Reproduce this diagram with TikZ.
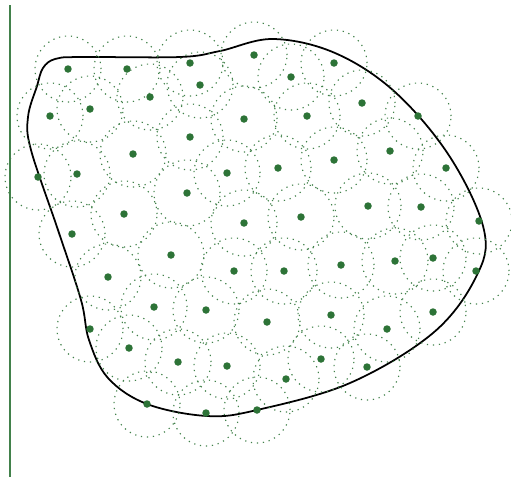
\documentclass[tikz,border=0pt]{standalone}
\usepackage{tikz}

\definecolor{seedgreen}{RGB}{45,115,55}
\tikzset{
   site/.style={circle, fill=seedgreen, inner sep=0pt, minimum size=0.15cm},
   cover/.style={seedgreen!90, line width=0.65pt, dash pattern=on 0.7pt off 2.7pt},
   border/.style={black, line width=1pt},
   wall/.style={seedgreen!90, line width=1pt}
}

\begin{document}
\begin{tikzpicture}[x=0.02cm, y=-0.02cm]
   \useasboundingbox (0,0) rectangle (511,477);
   % Wall on the left
   \coordinate (W1) at (10,5);
   \coordinate (W2) at (10,477);
   \draw[wall] (W1) -- (W2);

   % Region boundary
   \draw[border] plot[smooth cycle, tension=0.6] coordinates {
      (43,68) (55,59) (80,57) (180,57) (220,51) (273,39) (335,53)
      (395,92) (450,157) (484,230) (476,277) (433,333) (350,383)
      (257,410) (207,416) (147,404) (108,378) (89,340) (81,300)
      (58,230) (31,150) (28,117) (37,86)};

   % Sensors and their ranges
   \foreach \x/\y [count=\i] in {
      68/69, 127/69, 190/63, 254/55, 334/63, 291/77, 200/85, 150/97,
      90/109, 50/116, 362/103, 307/116, 244/119, 418/116, 190/137,
      133/154, 390/151, 334/160, 278/168, 227/173, 446/168, 77/174,
      38/177, 187/193, 368/206, 421/207, 124/214, 301/217, 244/223,
      479/221, 72/234, 171/255, 433/258, 395/261, 341/265, 284/271,
      234/271, 476/271, 108/277, 154/307, 206/310, 433/312, 331/315,
      267/322, 387/329, 90/329, 129/348, 321/359, 178/362, 227/366,
      367/367, 286/379, 147/404, 206/413, 257/410} {
      \node[site] (S\i) at (\x,\y) {};
      \draw[cover] (S\i) circle[radius=0.66cm];
   }
\end{tikzpicture}
\end{document}
